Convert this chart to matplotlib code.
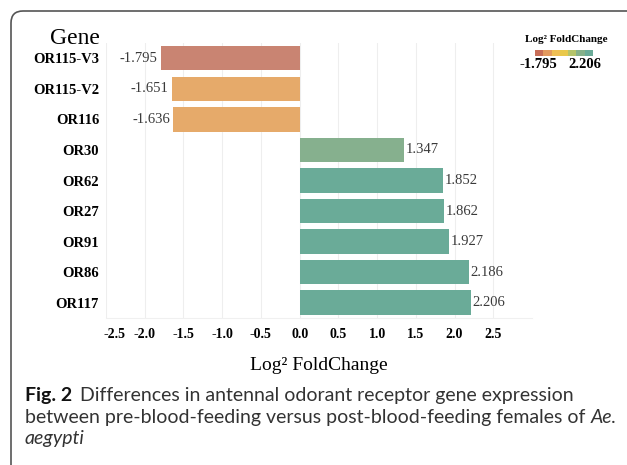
import matplotlib
matplotlib.use("Agg")
import matplotlib.pyplot as plt
import matplotlib.patches as mpatches
import matplotlib.transforms as mtransforms

# -------------------------
# Data
# -------------------------

genes = ["OR115-V3", "OR115-V2", "OR116", "OR30", "OR62", "OR27", "OR91", "OR86", "OR117"]
log2fc = [-1.795, -1.651, -1.636, 1.347, 1.852, 1.862, 1.927, 2.186, 2.206]
bar_colors = ["#c98472", "#e6aa6a", "#e6aa6a", "#86b08e", "#6aab98",
              "#6aab98", "#6aab98", "#6aab98", "#6aab98"]

xticks = [-2.5, -2.0, -1.5, -1.0, -0.5, 0.0, 0.5, 1.0, 1.5, 2.0, 2.5]
legend_colors = ["#c86e58", "#e39a5e", "#efbf55", "#e9c84a", "#b5c46a", "#86b18a", "#6aab98"]

serif = "Liberation Serif"
sans = "Lato"

# -------------------------
# Figure
# -------------------------

fig = plt.figure(figsize=(6.27, 4.65), dpi=100)
ax = fig.add_axes([106 / 627, 1 - 318 / 465, 426 / 627, 275 / 465])

y = list(range(len(genes)))
ax.barh(y, log2fc, height=0.8, color=bar_colors, zorder=2)

for yi, v in zip(y, log2fc):
    if v < 0:
        ax.text(v - 0.04, yi, f"{v:.3f}", ha="right", va="center",
                family=serif, fontsize=10.5, color="#3a3a3a")
    else:
        ax.text(v + 0.02, yi, f"{v:.3f}", ha="left", va="center",
                family=serif, fontsize=10.5, color="#3a3a3a")

ax.set_xlim(-2.5, 3.0)
ax.set_ylim(len(genes) - 0.5, -0.5)

ax.set_xticks(xticks)
ax.set_xticklabels([f"{t:.1f}" for t in xticks], family=serif,
                   fontweight="bold", fontsize=10)
ax.set_yticks(y)
ax.set_yticklabels(genes, family=serif, fontweight="bold", fontsize=10.5)
ax.tick_params(axis="both", length=0)
ax.tick_params(axis="x", pad=7)
ax.tick_params(axis="y", pad=5)

# the first tick label sits a little to the right
lab0 = ax.get_xticklabels()[0]
lab0.set_transform(lab0.get_transform() +
                   mtransforms.ScaledTranslation(9 / 100, 0, fig.dpi_scale_trans))

ax.grid(axis="x", color="#eeeeee", linewidth=0.8, zorder=0)
ax.grid(axis="y", visible=False)
for s in ["top", "right", "left"]:
    ax.spines[s].set_visible(False)
ax.spines["bottom"].set_color("#f0f0f0")

ax.set_xlabel("Log² FoldChange", family=serif, fontsize=14, labelpad=12)

fig.text(100 / 627, 1 - 38 / 465, "Gene", family=serif, fontsize=17,
         ha="right", va="center")

# -------------------------
# Colour legend
# -------------------------

fig.text(566 / 627, 1 - 40 / 465, "Log² FoldChange", family=serif,
         fontweight="bold", fontsize=8, ha="center", va="center")

seg_w = (593 - 535) / len(legend_colors)
for i, c in enumerate(legend_colors):
    fig.add_artist(mpatches.Rectangle(((535 + i * seg_w) / 627, 1 - 56 / 465),
                                      seg_w / 627, 6 / 465,
                                      transform=fig.transFigure, color=c, lw=0))
fig.text(538 / 627, 1 - 65 / 465, "-1.795", family=serif, fontweight="bold",
         fontsize=10.5, ha="center", va="center")
fig.text(585 / 627, 1 - 65 / 465, "2.206", family=serif, fontweight="bold",
         fontsize=10.5, ha="center", va="center")

# -------------------------
# Frame and caption
# -------------------------

frame = mpatches.FancyBboxPatch((11, -30), 660, 465 - 11 + 30,
                                boxstyle="round,pad=0,rounding_size=12",
                                transform=mtransforms.IdentityTransform(),
                                fill=False, edgecolor="#555555", linewidth=1.2)
fig.add_artist(frame)

renderer = fig.canvas.get_renderer()


def put(x_px, y_px, s, **kw):
    t = fig.text(x_px / 627, 1 - y_px / 465, s, va="baseline", ha="left", **kw)
    bb = t.get_window_extent(renderer)
    return x_px + bb.width


cap_kw = dict(family=sans, fontsize=14, color="#333333")
x = put(25, 401, "Fig. 2", family=sans, fontsize=14, fontweight="bold", color="#111111")
put(x + 8, 401, "Differences in antennal odorant receptor gene expression", **cap_kw)
x = put(25, 423, "between pre-blood-feeding versus post-blood-feeding females of ", **cap_kw)
put(x, 423, "Ae.", style="italic", **cap_kw)
put(25, 444, "aegypti", style="italic", **cap_kw)

fig.savefig("out.png", dpi=100)
